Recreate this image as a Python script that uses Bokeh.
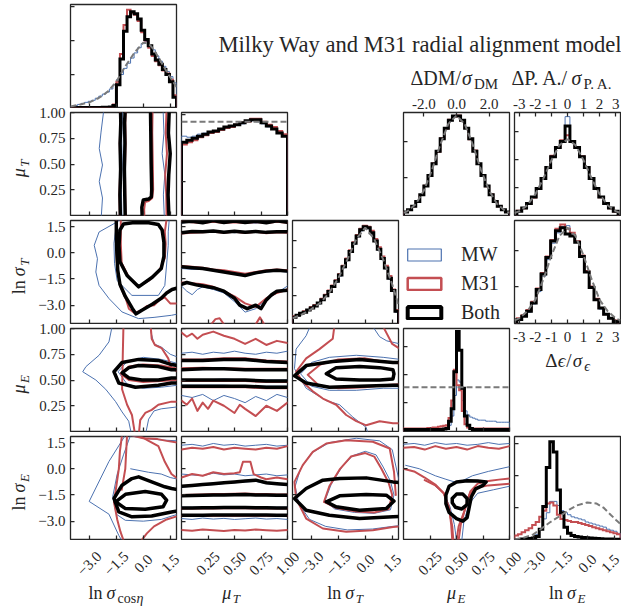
import math
import numpy as np
from bokeh.plotting import figure
from bokeh.layouts import row, column
from bokeh.models import (Range1d, FixedTicker, CustomJSTickFormatter, Label, Spacer,
                          Legend, LegendItem)
from bokeh.core.properties import value
from bokeh.embed import file_html
from bokeh.resources import INLINE

# ---------------------------------------------------------------- data
TITLE = "Milky Way and M31 radial alignment model"
SERIES = ["MW", "M31", "Both"]

LNS_RANGE = (-4.05, 1.85)
MU_RANGE = (0.0, 1.0)
DM_RANGE = (-3.25, 3.25)
PA_RANGE = (-3.3, 3.3)
PA_BINS = (-3.15, 3.15)
LNS_TICKS = [-3.0, -1.5, 0.0, 1.5]
MU_TICKS = [0.25, 0.5, 0.75, 1.0]
DM_TICKS = [-2.0, 0.0, 2.0]
PA_TICKS = [-3, -2, -1, 0, 1, 2, 3]

# 1-D histograms (heights as fraction of the panel height)
H00_MW = [0.01, 0.02, 0.03, 0.04, 0.05, 0.06, 0.07, 0.09, 0.11, 0.13, 0.15, 0.18, 0.22, 0.27, 0.32,
          0.38, 0.43, 0.48, 0.53, 0.58, 0.62, 0.64, 0.60, 0.56, 0.50, 0.45, 0.40, 0.35, 0.30, 0.24]
H00_M31 = [0, 0, 0, 0, 0, 0, 0, 0, 0.002, 0.003, 0.004, 0.006, 0.03, 0.25, 0.52,
           0.80, 0.95, 0.92, 0.90, 0.84, 0.73, 0.65, 0.58, 0.50, 0.45, 0.41, 0.36, 0.33, 0.27, 0.12]
H00_BOTH = [0, 0, 0, 0, 0, 0, 0, 0, 0, 0.003, 0.003, 0.005, 0.02, 0.22, 0.47,
            0.74, 0.88, 0.93, 0.91, 0.86, 0.75, 0.66, 0.60, 0.52, 0.46, 0.42, 0.37, 0.32, 0.25, 0.10]
H00_PRIOR_X = [-4.05, -3.5, -3.0, -2.5, -2.0, -1.5, -1.0, -0.5, 0.0, 0.3, 0.6, 1.0, 1.4, 1.85]
H00_PRIOR_Y = [0.01, 0.03, 0.05, 0.09, 0.15, 0.25, 0.40, 0.53, 0.63, 0.62, 0.56, 0.44, 0.32, 0.20]
H00_YTICKS = [0.32, 0.65, 0.98]

H11_MW = [0.77, 0.76, 0.77, 0.79, 0.80, 0.80, 0.82, 0.84, 0.86, 0.87,
          0.88, 0.89, 0.91, 0.92, 0.91, 0.89, 0.86, 0.84, 0.81, 0.78]
H11_M31 = [0.69, 0.71, 0.73, 0.76, 0.78, 0.80, 0.81, 0.83, 0.85, 0.86,
           0.88, 0.90, 0.91, 0.94, 0.94, 0.91, 0.88, 0.86, 0.82, 0.79]
H11_BOTH = [0.71, 0.73, 0.75, 0.77, 0.79, 0.81, 0.82, 0.84, 0.86, 0.87,
            0.88, 0.90, 0.92, 0.93, 0.93, 0.90, 0.87, 0.84, 0.80, 0.77]
H11_PRIOR_X = [0.0, 1.0]
H11_PRIOR_Y = [0.91, 0.91]
H11_YTICKS = [0.33, 0.98]

H22_MW = [0.06, 0.07, 0.09, 0.11, 0.13, 0.15, 0.17, 0.19, 0.23, 0.27, 0.31, 0.35, 0.40, 0.46, 0.54,
          0.61, 0.69, 0.77, 0.84, 0.90, 0.93, 0.92, 0.87, 0.80, 0.71, 0.62, 0.53, 0.43, 0.31, 0.11]
H22_M31 = [0.07, 0.08, 0.10, 0.12, 0.13, 0.16, 0.18, 0.20, 0.24, 0.28, 0.32, 0.37, 0.42, 0.48, 0.56,
           0.63, 0.71, 0.79, 0.86, 0.92, 0.95, 0.94, 0.90, 0.82, 0.74, 0.65, 0.56, 0.46, 0.33, 0.13]
H22_BOTH = [0.06, 0.08, 0.10, 0.11, 0.13, 0.15, 0.17, 0.20, 0.23, 0.27, 0.31, 0.36, 0.41, 0.47, 0.55,
            0.62, 0.70, 0.78, 0.85, 0.91, 0.94, 0.93, 0.88, 0.80, 0.72, 0.63, 0.54, 0.44, 0.32, 0.12]
H22_PRIOR_X = [-4.05, -3.5, -3.0, -2.5, -2.0, -1.5, -1.0, -0.5, 0.0, 0.5, 1.0, 1.5, 1.85]
H22_PRIOR_Y = [0.05, 0.09, 0.14, 0.20, 0.30, 0.44, 0.62, 0.82, 0.93, 0.82, 0.62, 0.38, 0.18]
H22_YTICKS = [0.27, 0.54, 0.81]

H33_MW = [0.02, 0.02, 0.02, 0.02, 0.02, 0.02, 0.02, 0.02, 0.02, 0.02, 0.02, 0.02, 0.02, 0.025, 0.025,
          0.03, 0.035, 0.06, 0.15, 0.35, 0.50, 0.48, 0.30, 0.20, 0.16, 0.14, 0.13, 0.12, 0.11, 0.11,
          0.11, 0.10, 0.10, 0.10, 0.10, 0.09, 0.09, 0.09, 0.09, 0.09]
H33_M31 = [0.03, 0.03, 0.03, 0.03, 0.03, 0.03, 0.03, 0.03, 0.03, 0.035, 0.035, 0.04, 0.04, 0.045, 0.05,
           0.055, 0.06, 0.13, 0.30, 0.60, 0.45, 0.40, 0.20, 0.07, 0.04, 0.035, 0.03, 0.03, 0.03, 0.03,
           0.03, 0.03, 0.03, 0.03, 0.03, 0.03, 0.03, 0.03, 0.03, 0.03]
H33_BOTH = [0.02, 0.02, 0.02, 0.02, 0.02, 0.02, 0.02, 0.02, 0.02, 0.02, 0.02, 0.02, 0.02, 0.02, 0.02,
            0.025, 0.03, 0.10, 0.22, 0.58, 0.97, 0.79, 0.42, 0.15, 0.06, 0.03, 0.02, 0.02, 0.02, 0.02,
            0.02, 0.02, 0.02, 0.02, 0.02, 0.02, 0.02, 0.02, 0.02, 0.02]
H33_PRIOR_X = [0.0, 1.0]
H33_PRIOR_Y = [0.43, 0.43]
H33_YTICKS = [0.28, 0.55, 0.83]

H44_MW = [0.005, 0.008, 0.01, 0.012, 0.015, 0.02, 0.05, 0.10, 0.20, 0.26, 0.37, 0.37, 0.33, 0.28, 0.26,
          0.24, 0.22, 0.21, 0.20, 0.19, 0.17, 0.16, 0.15, 0.14, 0.13, 0.12, 0.10, 0.09, 0.08, 0.06]
H44_M31 = [0.04, 0.05, 0.07, 0.09, 0.11, 0.14, 0.17, 0.22, 0.28, 0.35, 0.36, 0.33, 0.24, 0.20, 0.19,
           0.18, 0.17, 0.17, 0.16, 0.15, 0.14, 0.13, 0.12, 0.11, 0.10, 0.09, 0.08, 0.07, 0.06, 0.05]
H44_BOTH = [0.0, 0.0, 0.005, 0.008, 0.01, 0.015, 0.03, 0.10, 0.32, 0.70, 0.95, 0.85, 0.48, 0.26, 0.12,
            0.06, 0.04, 0.03, 0.025, 0.02, 0.018, 0.015, 0.012, 0.01, 0.008, 0.006, 0.005, 0.004, 0.003, 0.002]
H44_PRIOR_X = [-4.05, -3.5, -3.0, -2.6, -2.05, -1.5, -1.0, -0.6, 0.0, 0.5, 0.9, 1.3, 1.6, 1.85]
H44_PRIOR_Y = [0.0, 0.02, 0.05, 0.10, 0.17, 0.23, 0.29, 0.33, 0.36, 0.35, 0.31, 0.24, 0.19, 0.15]
H44_YTICKS = [0.31, 0.62, 0.93]

DM_MW = [0.032, 0.056, 0.088, 0.138, 0.204, 0.284, 0.390, 0.500, 0.627, 0.742, 0.850, 0.920, 0.968,
         0.962, 0.927, 0.844, 0.747, 0.622, 0.505, 0.386, 0.288, 0.200, 0.139, 0.087, 0.056, 0.032]
DM_M31 = [0.035, 0.054, 0.090, 0.135, 0.200, 0.290, 0.385, 0.505, 0.620, 0.750, 0.845, 0.930, 0.960,
          0.970, 0.920, 0.850, 0.740, 0.630, 0.500, 0.390, 0.283, 0.205, 0.135, 0.090, 0.053, 0.034]
DM_BOTH = [0.033, 0.055, 0.089, 0.137, 0.202, 0.286, 0.388, 0.503, 0.625, 0.744, 0.847, 0.924, 0.965,
           0.965, 0.924, 0.847, 0.744, 0.625, 0.503, 0.388, 0.286, 0.202, 0.137, 0.089, 0.055, 0.033]
DM_PRIOR_X = [-3.25, -3.0, -2.5, -2.0, -1.5, -1.0, -0.5, 0.0, 0.5, 1.0, 1.5, 2.0, 2.5, 3.0, 3.25]
DM_PRIOR_Y = [0.025, 0.043, 0.11, 0.242, 0.444, 0.686, 0.89, 0.97, 0.89, 0.686, 0.444, 0.242, 0.11, 0.043, 0.025]
DM_YTICKS = [0.37, 0.72]

PA_MW = [0.040, 0.074, 0.115, 0.182, 0.260, 0.355, 0.470, 0.565, 0.665, 0.715, 0.960,
         0.725, 0.658, 0.568, 0.465, 0.362, 0.260, 0.182, 0.115, 0.074, 0.043]
PA_M31 = [0.045, 0.070, 0.120, 0.175, 0.265, 0.365, 0.460, 0.580, 0.660, 0.730, 0.780,
          0.720, 0.655, 0.575, 0.470, 0.355, 0.265, 0.178, 0.120, 0.070, 0.040]
PA_BOTH = [0.042, 0.072, 0.117, 0.180, 0.262, 0.360, 0.467, 0.571, 0.660, 0.719, 0.870,
           0.719, 0.660, 0.571, 0.467, 0.360, 0.262, 0.180, 0.117, 0.072, 0.042]
PA_PRIOR_X = [-3.3, -3.0, -2.5, -2.0, -1.5, -1.0, -0.5, 0.0, 0.5, 1.0, 1.5, 2.0, 2.5, 3.0, 3.3]
PA_PRIOR_Y = [0.023, 0.042, 0.10, 0.206, 0.36, 0.537, 0.683, 0.74, 0.683, 0.537, 0.36, 0.206, 0.10, 0.042, 0.023]
PA_YTICKS = [0.27, 0.54, 0.82]

EPS_MW = [0.04, 0.07, 0.11, 0.19, 0.31, 0.46, 0.62, 0.78, 0.88, 0.94, 0.95,
          0.86, 0.80, 0.66, 0.51, 0.36, 0.23, 0.14, 0.09, 0.05, 0.02]
EPS_M31 = [0.05, 0.08, 0.13, 0.21, 0.34, 0.49, 0.65, 0.81, 0.92, 0.96, 0.92,
           0.88, 0.80, 0.66, 0.51, 0.36, 0.24, 0.15, 0.09, 0.05, 0.03]
EPS_BOTH = [0.04, 0.07, 0.12, 0.20, 0.33, 0.48, 0.64, 0.80, 0.90, 0.93, 0.87,
            0.85, 0.79, 0.65, 0.50, 0.35, 0.23, 0.15, 0.09, 0.05, 0.02]
EPS_PRIOR_X = [-3.3, -3.0, -2.5, -2.0, -1.5, -1.0, -0.5, 0.0, 0.5, 1.0, 1.5, 2.0, 2.5, 3.0, 3.3]
EPS_PRIOR_Y = [0.03, 0.05, 0.12, 0.23, 0.43, 0.66, 0.85, 0.93, 0.85, 0.66, 0.43, 0.23, 0.12, 0.05, 0.03]
EPS_YTICKS = [0.36, 0.71]

# 2-D credible-region contours: list of (x, y) curves per series
P10_MW = [([-2.18, -2.35, -2.45, -2.27, -2.45, -2.27, -2.35], [1.05, 0.81, 0.65, 0.49, 0.33, 0.17, -0.05]),
          ([-1.15, -1.2, -1.17, -1.22, -1.18], [1.05, 0.75, 0.5, 0.25, -0.05]),
          ([1.1, 1.15, 1.05, 1.2, 1.12, 1.18], [1.05, 0.8, 0.6, 0.4, 0.2, -0.05])]
P10_M31 = [([-0.97, -1.0, -1.02, -0.98, -1.0, -0.97], [-0.05, 0.2, 0.45, 0.7, 0.9, 1.05]),
           ([0.52, 0.5, 0.53, 0.55, 0.5, 0.3, 0.1, 0.05, 0.07], [1.05, 0.8, 0.5, 0.25, 0.17, 0.14, 0.13, 0.06, -0.05]),
           ([-1.3, -1.33, -1.28, -1.31, -1.27, -1.3], [-0.05, 0.2, 0.45, 0.7, 0.9, 1.05]),
           ([1.3, 1.25, 1.32, 1.22, 1.28, 1.3], [1.05, 0.8, 0.6, 0.4, 0.2, -0.05])]
P10_BOTH = [([-1.0, -1.03, -1.05, -1.02, -1.04, -1.0], [-0.05, 0.2, 0.45, 0.7, 0.9, 1.05]),
            ([0.4, 0.42, 0.44, 0.47, 0.45, 0.3, 0.0, -0.08, -0.05], [1.05, 0.8, 0.5, 0.25, 0.18, 0.16, 0.15, 0.08, -0.05]),
            ([-1.27, -1.3, -1.26, -1.29, -1.25, -1.27], [-0.05, 0.2, 0.45, 0.7, 0.9, 1.05]),
            ([1.45, 1.4, 1.5, 1.42, 1.38, 1.44], [1.05, 0.8, 0.6, 0.4, 0.2, -0.05])]

P20_MW = [([-1.2, -1.63, -2.46, -2.73, -2.55, -2.64, -2.46, -1.9, -1.18, -0.26, 0.6, 1.57, 1.95],
           [1.95, 1.67, 1.19, 0.43, -0.34, -1.1, -1.87, -2.63, -3.39, -3.77, -3.7, -3.58, -3.5]),
          ([-1.5, -1.55, -1.63, -1.6, -1.45, -0.63, 0.84, 1.2, 1.39, 1.39, 1.45],
           [1.95, 1.19, 0.55, -0.6, -1.6, -2.44, -2.44, -1.87, 0.43, 1.2, 1.95])]
P20_M31 = [([-1.25, -1.25, -1.2, -0.8, -0.3, 0.3, 0.9, 1.2, 1.25, 1.2, 1.3],
            [1.95, 0.5, -0.6, -1.4, -1.95, -1.6, -1.0, -0.3, 0.5, 1.2, 1.95]),
           ([-1.5, -1.5, -1.45, -1.25, -0.95, -0.8, -0.5, -0.1, 0.2, 0.6, 0.9, 1.2, 1.5, 1.95],
            [1.95, 0.5, -1.0, -2.0, -2.7, -3.2, -3.45, -3.3, -3.05, -3.0, -2.7, -2.55, -2.9, -2.9])]
P20_BOTH = [([-1.3, -1.1, -0.6, 0.3, 0.84, 1.05, 1.15, 1.15, 1.0, 0.5, -0.26, -0.9, -1.3, -1.35, -1.3],
             [1.3, 1.65, 1.72, 1.72, 1.62, 1.3, 0.6, -0.2, -0.9, -1.4, -1.95, -1.3, -0.5, 0.4, 1.3]),
            ([-1.5, -1.5, -1.47, -1.42, -1.3, -1.0, -0.6, -0.4, -0.1, 0.5, 1.0, 1.3, 1.6, 1.95],
             [1.95, 1.0, 0.0, -1.0, -1.8, -2.5, -3.2, -3.5, -3.3, -2.95, -2.6, -2.3, -2.1, -2.0])]

P30_MW = [([-1.7, -1.91, -2.46, -3.19, -3.37, -2.64, -2.09, -1.54, -1.18, -0.81, -0.63],
           [1.05, 0.87, 0.74, 0.63, 0.58, 0.5, 0.41, 0.29, 0.19, 0.1, -0.05]),
          ([0.1, 0.3, 0.6, 1.0, 1.95], [-0.05, 0.12, 0.2, 0.22, 0.24]),
          ([1.95, 1.0, 0.0, -0.9, -1.4, -0.9, 0.0, 1.0, 1.95], [0.66, 0.7, 0.72, 0.68, 0.58, 0.46, 0.42, 0.43, 0.45]),
          ([0.3, 0.6, 1.0, 1.5, 1.95], [1.05, 0.85, 0.82, 0.75, 0.72])]
P30_M31 = [([1.95, 1.0, 0.0, -0.8, -1.25, -0.8, 0.0, 1.0, 1.95], [0.61, 0.64, 0.65, 0.63, 0.56, 0.5, 0.48, 0.49, 0.5]),
           ([-1.1, -1.14, -1.16, -1.18, -0.9, -0.63, -0.44], [1.05, 0.74, 0.55, 0.41, 0.26, 0.16, -0.05]),
           ([0.4, 0.47, 0.65, 1.02, 1.39, 1.57, 1.95], [1.05, 0.9, 0.84, 0.81, 0.71, 0.61, 0.58]),
           ([1.95, 1.57, 0.84, 0.47, 0.11, -0.17, -0.26], [0.29, 0.29, 0.26, 0.21, 0.18, 0.11, -0.05])]
P30_BOTH = [([1.95, 1.57, 0.84, -0.26, -0.8, -1.18, -0.8, -0.08, 0.84, 1.57, 1.95],
             [0.6, 0.6, 0.63, 0.64, 0.62, 0.57, 0.52, 0.5, 0.5, 0.52, 0.52]),
            ([1.95, 1.57, 0.84, -0.26, -1.18, -1.63, -1.36, -0.44, 0.84, 1.57, 1.95],
             [0.64, 0.65, 0.69, 0.7, 0.67, 0.58, 0.47, 0.43, 0.45, 0.47, 0.47])]

P40_MW = [([-0.98, -1.91, -3.01, -1.91, -1.36, -1.2], [1.95, 0.42, -1.87, -2.6, -3.82, -4.1]),
          ([-0.98, 0.0, 1.0, 1.95], [1.95, 1.75, 1.65, 1.6]),
          ([-0.7, -1.1, -1.45, -1.7, -1.5, -1.0, 0.0, 1.0, 1.6, 1.95], [1.95, 0.8, -0.3, -1.6, -2.6, -2.95, -3.0, -2.9, -2.7, -2.6]),
          ([-0.7, 0.3, 1.0, 1.5, 1.95], [0.0, -0.2, -0.3, -0.5, -0.6])]
P40_M31 = [([-1.18, -1.3, -1.36, -1.5, -1.63, -1.45, -1.27, -1.1], [1.95, 1.0, 0.0, -1.0, -1.9, -2.9, -3.6, -4.1]),
           ([-0.8, 0.0, 0.8, 1.3, 1.95], [1.95, 1.75, 1.7, 1.6, 1.5]),
           ([-0.9, -0.95, -1.0, -1.2], [1.95, 1.0, 0.0, -1.2]),
           ([-0.3, 0.3, 0.84, 1.2, 1.57, 1.95], [1.95, 1.6, 1.3, 0.4, -0.3, -0.6]),
           ([1.95, 1.3, 0.6, 0.2, -0.1], [-2.7, -2.9, -3.3, -3.7, -4.1])]
P40_BOTH = [([-1.54, -0.99, 0.11, 1.02, 1.3, 1.1, 0.11, -0.99, -1.54], [-1.89, -1.46, -1.3, -1.46, -1.8, -2.18, -2.32, -2.28, -1.89]),
            ([1.95, 1.57, 1.2, 0.47, -0.26, -0.63, -1.18, -1.63, -1.36, -0.63, 0.47, 1.57, 1.95],
             [-1.2, -1.13, -1.03, -0.75, -0.46, -0.56, -0.94, -1.7, -2.47, -2.75, -2.7, -2.47, -2.4])]

MU_GRID = [0.0, 0.1, 0.2, 0.3, 0.4, 0.5, 0.6, 0.7, 0.8, 0.9, 1.0]
P21_MW = [(MU_GRID, [1.7, 1.78, 1.74, 1.82, 1.72, 1.8, 1.75, 1.7, 1.78, 1.74, 1.8]),
          (MU_GRID, [1.12, 1.18, 1.22, 1.18, 1.2, 1.15, 1.22, 1.18, 1.15, 1.22, 1.18]),
          (MU_GRID, [-0.9, -0.95, -0.95, -1.0, -1.05, -1.15, -1.25, -1.2, -1.1, -1.05, -1.1]),
          ([0.0, 0.05, 0.1, 0.15, 0.2, 0.3, 0.4, 0.5, 0.6, 0.7, 0.8, 0.9, 1.0],
           [-1.9, -2.2, -2.4, -2.1, -1.95, -2.1, -2.3, -2.8, -3.4, -3.2, -2.7, -2.3, -1.9])]
P21_M31 = [(MU_GRID, [1.8, 1.75, 1.7, 1.78, 1.7, 1.75, 1.7, 1.76, 1.7, 1.78, 1.72]),
           (MU_GRID, [1.1, 1.15, 1.17, 1.2, 1.15, 1.2, 1.14, 1.2, 1.12, 1.17, 1.15]),
           (MU_GRID, [-0.75, -0.8, -0.85, -0.95, -1.0, -1.1, -1.2, -1.1, -1.0, -0.95, -1.0]),
           (MU_GRID, [-1.7, -1.75, -1.8, -1.95, -2.2, -2.5, -2.9, -3.1, -2.6, -2.3, -2.1]),
           ([0.28, 0.32, 0.36, 0.4], [-4.1, -3.8, -3.75, -4.1]),
           ([0.7, 0.74, 0.78], [-4.1, -3.7, -4.1])]
P21_BOTH = [(MU_GRID, [1.76, 1.8, 1.72, 1.85, 1.74, 1.82, 1.73, 1.8, 1.72, 1.84, 1.75]),
            (MU_GRID, [1.15, 1.22, 1.2, 1.25, 1.18, 1.24, 1.18, 1.22, 1.17, 1.2, 1.2]),
            (MU_GRID, [-0.8, -0.85, -0.9, -1.0, -1.1, -1.2, -1.3, -1.15, -1.05, -1.0, -1.05]),
            ([0.0, 0.05, 0.15, 0.3, 0.4, 0.5, 0.55, 0.62, 0.7, 0.75, 0.8, 0.85, 0.9, 1.0],
             [-1.8, -1.7, -1.85, -2.0, -2.2, -2.6, -3.0, -3.2, -3.0, -3.2, -2.7, -2.4, -2.2, -2.15])]

MU_GRID6 = [0.0, 0.2, 0.4, 0.6, 0.8, 1.0]
P31_MW = [(MU_GRID6, [0.69, 0.7, 0.7, 0.69, 0.69, 0.68]),
          (MU_GRID6, [0.6, 0.6, 0.61, 0.6, 0.6, 0.6]),
          (MU_GRID6, [0.5, 0.5, 0.51, 0.5, 0.5, 0.5]),
          (MU_GRID6, [0.45, 0.45, 0.45, 0.44, 0.44, 0.44]),
          (MU_GRID, [0.76, 0.77, 0.75, 0.77, 0.76, 0.78, 0.76, 0.75, 0.77, 0.76, 0.78]),
          (MU_GRID, [0.35, 0.33, 0.36, 0.3, 0.35, 0.32, 0.28, 0.34, 0.3, 0.36, 0.33])]
P31_M31 = [(MU_GRID6, [0.7, 0.7, 0.71, 0.71, 0.69, 0.68]),
           (MU_GRID6, [0.615, 0.62, 0.615, 0.61, 0.61, 0.61]),
           (MU_GRID6, [0.49, 0.49, 0.49, 0.49, 0.48, 0.48]),
           (MU_GRID6, [0.43, 0.43, 0.43, 0.43, 0.42, 0.42]),
           ([0.0, 0.05, 0.1, 0.15, 0.2, 0.3, 0.4, 0.5, 0.6, 0.7, 0.8, 0.9, 1.0],
            [0.96, 0.92, 0.95, 0.9, 0.94, 0.97, 0.93, 0.9, 0.85, 0.9, 0.84, 0.88, 0.86]),
           ([0.0, 0.05, 0.1, 0.15, 0.2, 0.25, 0.3, 0.4, 0.5, 0.55, 0.6, 0.7, 0.8, 0.9, 1.0],
            [0.3, 0.26, 0.32, 0.2, 0.28, 0.22, 0.3, 0.25, 0.18, 0.26, 0.22, 0.15, 0.25, 0.2, 0.28])]
P31_BOTH = [(MU_GRID6, [0.69, 0.69, 0.7, 0.7, 0.68, 0.67]),
            (MU_GRID6, [0.6, 0.61, 0.61, 0.6, 0.6, 0.6]),
            (MU_GRID6, [0.5, 0.5, 0.5, 0.5, 0.49, 0.49]),
            (MU_GRID6, [0.44, 0.44, 0.44, 0.44, 0.43, 0.43])]

P41_MW = [(MU_GRID, [1.35, 1.4, 1.3, 1.45, 1.35, 1.4, 1.3, 1.35, 1.4, 1.3, 1.35]),
          (MU_GRID, [-0.3, -0.35, -0.4, -0.25, -0.35, -0.3, -0.4, -0.35, -0.3, -0.4, -0.35]),
          (MU_GRID, [-1.05, -1.0, -0.95, -0.9, -0.85, -0.8, -0.75, -0.72, -0.85, -0.9, -0.95]),
          (MU_GRID, [-1.58, -1.56, -1.55, -1.53, -1.52, -1.5, -1.5, -1.52, -1.53, -1.55, -1.55]),
          (MU_GRID, [-2.2, -2.2, -2.19, -2.19, -2.18, -2.18, -2.18, -2.19, -2.19, -2.2, -2.2]),
          (MU_GRID, [-2.85, -2.9, -2.82, -2.88, -2.84, -2.9, -2.86, -2.82, -2.88, -2.85, -2.9])]
P41_M31 = [(MU_GRID, [1.1, 1.2, 1.15, 1.25, 1.1, 1.2, 1.15, 1.1, 1.2, 1.15, 1.3]),
           ([0.0, 0.1, 0.2, 0.3, 0.4, 0.5, 0.55, 0.58, 0.65, 0.68, 0.75, 0.8, 0.9, 1.0],
            [-0.5, -0.3, -0.4, -0.2, -0.3, -0.25, -0.2, 0.4, 0.4, -0.3, -0.5, -0.6, -0.5, -0.6]),
           (MU_GRID, [-1.5, -1.48, -1.47, -1.45, -1.45, -1.43, -1.42, -1.45, -1.45, -1.47, -1.47]),
           (MU_GRID, [-2.28, -2.28, -2.27, -2.27, -2.26, -2.26, -2.26, -2.27, -2.27, -2.28, -2.28]),
           (MU_GRID, [-2.7, -2.7, -2.7, -2.69, -2.69, -2.69, -2.68, -2.69, -2.69, -2.7, -2.7]),
           (MU_GRID, [-3.5, -3.55, -3.48, -3.52, -3.56, -3.5, -3.54, -3.48, -3.52, -3.55, -3.5])]
P41_BOTH = [(MU_GRID, [-1.0, -0.95, -0.9, -0.85, -0.8, -0.75, -0.7, -0.65, -0.8, -0.85, -0.9]),
            (MU_GRID, [-1.55, -1.53, -1.52, -1.5, -1.5, -1.48, -1.47, -1.5, -1.5, -1.52, -1.52]),
            (MU_GRID, [-2.24, -2.24, -2.23, -2.23, -2.22, -2.22, -2.22, -2.23, -2.23, -2.24, -2.24]),
            (MU_GRID, [-2.66, -2.66, -2.66, -2.65, -2.65, -2.65, -2.64, -2.65, -2.65, -2.66, -2.66])]

P32_MW = [([-3.0, -3.29, -3.85, -3.94, -3.29, -2.17, -1.43, -0.69, 0.05, 0.2],
           [1.05, 0.93, 0.8, 0.61, 0.42, 0.3, 0.26, 0.14, 0.04, -0.05]),
          ([0.3, 0.8, 1.2, 1.95], [1.05, 0.92, 0.88, 0.85]),
          ([1.95, 1.0, -0.5, -2.0, -3.0, -3.6, -3.0, -2.0, -0.5, 1.0, 1.95],
           [0.7, 0.72, 0.74, 0.72, 0.67, 0.56, 0.44, 0.4, 0.4, 0.42, 0.42])]
P32_M31 = [([-1.7, -1.81, -2.55, -3.29, -3.85, -3.48, -2.92, -2.36, -1.62, -1.06, -0.5, 0.05, 0.8, 1.54, 1.95],
            [1.05, 0.9, 0.8, 0.71, 0.58, 0.48, 0.39, 0.32, 0.26, 0.16, 0.1, 0.06, 0.1, 0.08, 0.08]),
           ([0.9, 1.2, 1.5, 1.95], [1.05, 0.95, 0.85, 0.8]),
           ([1.95, 1.0, 0.0, -1.5, -2.5, -3.2, -2.6, -1.5, 0.0, 1.0, 1.95],
            [0.66, 0.68, 0.71, 0.7, 0.65, 0.55, 0.45, 0.42, 0.43, 0.45, 0.46])]
P32_BOTH = [([1.6, 1.54, 0.8, -0.32, -1.62, -2.17, -1.62, -0.32, 0.8, 1.54, 1.6],
             [0.56, 0.6, 0.62, 0.63, 0.62, 0.56, 0.51, 0.5, 0.5, 0.51, 0.56]),
            ([1.95, 1.54, -0.32, -1.81, -3.29, -3.94, -3.29, -2.0, -0.32, 1.54, 1.95],
             [0.67, 0.67, 0.7, 0.68, 0.64, 0.54, 0.47, 0.43, 0.44, 0.45, 0.45])]

P42_MW = [([1.95, 1.5, 0.8, -0.5, -2.0, -3.0, -3.6, -3.9, -3.7, -3.1, -2.2, -1.0, 0.4, 1.5, 1.95],
           [-1.0, 1.1, 1.6, 1.75, 1.5, 0.9, 0.0, -1.0, -2.0, -2.9, -3.3, -3.5, -3.45, -3.3, -3.25]),
          ([-2.25, -1.9, -1.3, -0.7, 0.0, 0.6, 1.0, 1.4, 1.6, 1.4, 0.5, -0.6, -1.7, -2.25],
           [-1.85, -0.9, 0.1, 0.75, 1.0, 0.8, 0.1, -0.7, -1.5, -2.35, -2.55, -2.5, -2.3, -1.85])]
P42_M31 = [([1.7, 1.6, 1.36, 0.42, -1.06, -2.17, -2.92, -3.48, -3.94, -3.85, -3.29, -2.36, -1.06, 0.42, 1.54, 1.95],
            [-1.5, -0.17, 1.16, 1.55, 1.64, 1.45, 0.97, 0.21, -0.75, -1.7, -2.85, -3.42, -3.61, -3.52, -3.33, -3.3]),
           ([-2.3, -2.0, -1.4, -0.8, 0.0, 0.5, 0.9, 1.3, 1.5, 1.3, 0.5, -0.5, -1.6, -2.3],
            [-1.9, -1.0, 0.0, 0.7, 0.9, 0.7, 0.0, -0.8, -1.5, -2.3, -2.5, -2.45, -2.25, -1.9])]
P42_BOTH = [([-2.17, -1.43, 0.05, 1.17, 1.6, 1.17, -0.32, -1.62, -2.17],
             [-1.89, -1.55, -1.47, -1.51, -1.85, -2.28, -2.37, -2.18, -1.89]),
            ([1.95, 1.54, 0.05, -1.43, -2.36, -3.29, -3.94, -3.29, -2.0, -0.32, 1.54, 1.95],
             [-0.8, -0.75, -0.52, -0.56, -0.65, -1.13, -1.7, -2.37, -2.66, -2.85, -2.75, -2.73])]

P43_MW = [(MU_GRID, [1.4, 1.45, 1.35, 1.5, 1.4, 1.45, 1.35, 1.4, 1.5, 1.4, 1.45]),
          ([0.02, 0.15, 0.3, 0.4, 0.48, 0.55, 0.65, 0.8, 1.0], [0.2, 0.0, -0.4, -0.6, -0.75, -0.7, -0.4, -0.15, 0.12]),
          ([0.3, 0.38, 0.44, 0.48, 0.5], [-1.0, -1.4, -2.2, -3.2, -4.1]),
          ([0.55, 0.57, 0.62, 0.7, 0.85, 1.0], [-4.1, -3.0, -2.0, -1.4, -1.2, -1.0])]
P43_M31 = [(MU_GRID, [1.2, 1.25, 1.1, 1.3, 1.15, 1.25, 1.1, 1.3, 1.2, 1.15, 1.3]),
           ([0.0, 0.1, 0.2, 0.3, 0.38, 0.43, 0.46, 0.47], [0.0, -0.15, -0.5, -0.9, -1.4, -2.3, -3.3, -4.1]),
           ([0.52, 0.54, 0.58, 0.63, 0.7, 0.8, 0.9, 1.0], [-4.1, -3.2, -2.3, -1.3, -0.85, -0.7, -0.62, -0.55]),
           ([0.2, 0.3, 0.38, 0.43, 0.45, 0.46], [-0.65, -0.95, -1.4, -2.2, -3.2, -4.1]),
           ([0.5, 0.52, 0.57, 0.62, 0.68, 0.8, 1.0], [-4.1, -3.3, -2.5, -1.5, -1.1, -0.95, -0.85])]
P43_BOTH = [([0.46, 0.5, 0.56, 0.6, 0.6, 0.55, 0.49, 0.46, 0.46], [-1.7, -1.45, -1.45, -1.7, -2.05, -2.3, -2.2, -1.95, -1.7]),
            ([0.4, 0.43, 0.5, 0.6, 0.7, 0.78, 0.75, 0.68, 0.64, 0.62, 0.6, 0.56, 0.5, 0.43, 0.4, 0.4],
             [-1.5, -1.0, -0.75, -0.68, -0.7, -0.75, -0.95, -1.15, -1.6, -2.2, -2.8, -3.0, -2.85, -2.5, -2.0, -1.5])]

# ---------------------------------------------------------------- style / layout constants
SERIF = "Liberation Serif"
INK = "#262626"
COL = {"MW": "#4C72B0", "M31": "#C44E52", "Both": "#000000"}
CLW = {"MW": 1.0, "M31": 2.0, "Both": 3.5}
HLW = {"MW": 1.0, "M31": 2.0, "Both": 3.0}
LEG_LW = {"MW": 1.2, "M31": 2.5, "Both": 4.0}
PRIOR_COLOR = "#7a7a7a"
BASE_FIX = 0.27      # correction of the rendered alphabetic baseline (em)

FRAME = 103
FRAME_W = 106
BT, BB = 4, 1
CELL_H = BT + FRAME + BB                  # 108
LAB_W = 35                                # strip with the rotated y labels
AX_W = 32                                 # strip with the y tick labels (real axes)
LEFT_W = LAB_W + AX_W
BODY_H = 5 * CELL_H                       # 540
BOTTOM_H = 608 - BODY_H                   # 68: rotated tick labels + x labels
TOP_H = 91
COLW = [3 + FRAME_W + 3, 2 + FRAME_W + 3, 2 + FRAME_W + 3, 2 + FRAME_W + 3, 2 + FRAME_W + 1]
COL_L = [LEFT_W + 3]
for _i in range(1, 5):
    COL_L.append(LEFT_W + sum(COLW[:_i]) + 2)
COL_C = [l + FRAME_W / 2 for l in COL_L]
ROW_T = [r * CELL_H + BT for r in range(5)]
ROW_B = [t + FRAME for t in ROW_T]
RIGHT_X0 = LEFT_W + COLW[0]
RIGHT_W = sum(COLW[1:])
TOTAL_W = 624
COL_RANGES = [LNS_RANGE, MU_RANGE, LNS_RANGE, MU_RANGE, LNS_RANGE]
COL_TICKS = [LNS_TICKS, MU_TICKS, LNS_TICKS, MU_TICKS, LNS_TICKS]
COL_KINDS = ["lns", "mu", "lns", "mu", "lns"]
# vertical extent of the y-tick-label strips of rows 1-4 (so that no label is cut)
AX_STRIPS = [(96, 216), (216, 318), (318, 432), (432, 540)]


def fmt(kind):
    if kind == "lns":
        code = "return tick.toFixed(1).replace('-', '\u2212');"
    elif kind == "mu":
        code = "return tick.toFixed(2);"
    elif kind == "dm":
        code = "return tick.toFixed(1);"
    else:
        code = "return tick.toFixed(0);"
    return CustomJSTickFormatter(code=code)


def tick_text(t, kind):
    if kind == "mu":
        return f"{t:.2f}"
    return f"{t:.1f}".replace("-", "\u2212")


def style_axis(ax, ticks, kind, standoff=4, tick_len=4):
    ax.ticker = FixedTicker(ticks=ticks, minor_ticks=[])
    ax.major_tick_in = tick_len
    ax.major_tick_out = 0
    ax.major_tick_line_color = INK if tick_len else None
    ax.major_tick_line_width = 1.25
    ax.minor_tick_line_color = None
    ax.axis_line_color = None
    if kind is None:
        ax.major_label_text_font_size = "0px"
        ax.major_label_text_color = None
        ax.major_label_standoff = 0
    else:
        ax.formatter = fmt(kind)
        ax.major_label_text_font = SERIF
        ax.major_label_text_font_size = "15px"
        ax.major_label_text_color = INK
        ax.major_label_standoff = standoff


def panel(w, h, xr, yr, bl, br, bt, bb, xticks, yticks, xkind=None, xloc="below", standoff=4):
    p = figure(width=w, height=h, x_range=Range1d(*xr), y_range=Range1d(*yr),
               output_backend="svg", toolbar_location=None, tools="",
               x_axis_location=xloc, min_border_left=bl, min_border_right=br,
               min_border_top=bt, min_border_bottom=bb)
    p.grid.visible = False
    p.outline_line_color = INK
    p.outline_line_width = 1.3
    p.background_fill_color = "white"
    p.border_fill_color = "white"
    style_axis(p.xaxis[0], xticks, xkind, standoff)
    style_axis(p.yaxis[0], yticks, None)
    return p


def blank(w, h, xr, yr, **borders):
    p = figure(width=w, height=h, x_range=Range1d(*xr), y_range=Range1d(*yr),
               x_axis_type=None, y_axis_type=None, output_backend="svg",
               toolbar_location=None, tools="", **borders)
    p.outline_line_color = None
    p.background_fill_color = "white"
    p.border_fill_color = "white"
    return p


def strip_range(v0, v1, lo, hi, frame_lo, frame_hi):
    """range over a strip [lo, hi] px such that [v0, v1] falls on [frame_lo, frame_hi] px."""
    k = (v1 - v0) / (frame_hi - frame_lo)
    return Range1d(v0 - (frame_lo - lo) * k, v1 + (hi - frame_hi) * k)


def draw_hist(p, lo, hi, heights, color, lw):
    edges = np.linspace(lo, hi, len(heights) + 1)
    xs, ys = [edges[0]], [0.0]
    for i, hgt in enumerate(heights):
        xs += [edges[i], edges[i + 1]]
        ys += [hgt, hgt]
    xs.append(edges[-1])
    ys.append(0.0)
    p.line(xs, ys, line_color=color, line_width=lw, line_join="miter")


def hist_panel(p, lo, hi, mw, m31, both, px, py):
    draw_hist(p, lo, hi, mw, COL["MW"], HLW["MW"])
    draw_hist(p, lo, hi, m31, COL["M31"], HLW["M31"])
    draw_hist(p, lo, hi, both, COL["Both"], HLW["Both"])
    p.line(px, py, line_color=PRIOR_COLOR, line_width=2, line_dash="6 3")


def contour_panel(p, mw, m31, both):
    for curves, s in ((mw, "MW"), (m31, "M31"), (both, "Both")):
        p.multi_line(xs=[list(c[0]) for c in curves], ys=[list(c[1]) for c in curves],
                     line_color=COL[s], line_width=CLW[s], line_join="round", line_cap="round")


def mlabel(p, x, y, pieces, vertical=False):
    """math-like label from pieces (text, size, style, advance, is_subscript), centred on x (or y)."""
    total = sum(pc[3] for pc in pieces)
    pos = -total / 2.0
    for text, size, style, adv, sub in pieces:
        shift = (4.5 if sub else 0.0) - BASE_FIX * size
        kw = dict(x=x, y=y, text=text, text_font=SERIF, text_font_size=f"{size}px",
                  text_font_style=style, text_color=INK, text_align="left",
                  text_baseline="alphabetic")
        if vertical:
            lab = Label(x_offset=shift, y_offset=pos, angle=math.pi / 2, **kw)
        else:
            lab = Label(x_offset=pos, y_offset=-shift, **kw)
        p.add_layout(lab)
        pos += adv


LAB_COS = [("ln", 18, "normal", 18.0, False), ("σ", 18, "italic", 11.0, False),
           ("cos", 14, "normal", 19.0, True), ("η", 14, "italic", 8.0, True)]
LAB_MUT = [("μ", 18, "italic", 10.5, False), ("T", 13, "italic", 8.0, True)]
LAB_MUE = [("μ", 18, "italic", 10.5, False), ("E", 13, "italic", 8.5, True)]
LAB_LST = [("ln", 18, "normal", 18.0, False), ("σ", 18, "italic", 10.5, False), ("T", 13, "italic", 8.0, True)]
LAB_LSE = [("ln", 18, "normal", 18.0, False), ("σ", 18, "italic", 10.5, False), ("E", 13, "italic", 8.5, True)]
LAB_DM = [("ΔDM/", 20, "normal", 51.5, False), ("σ", 20, "italic", 12.0, False), ("DM", 15, "normal", 24.5, True)]
LAB_PA = [("ΔP. A./", 20, "normal", 60.0, False), ("σ", 20, "italic", 12.0, False), ("P. A.", 15, "normal", 30.0, True)]
LAB_EPS = [("Δ", 19, "normal", 12.5, False), ("ϵ", 19, "italic", 8.5, False), ("/", 19, "normal", 6.5, False),
           ("σ", 19, "italic", 11.5, False), ("ϵ", 14, "italic", 6.5, True)]
XLAB_CENTERS = [COL_C[0] - 7, COL_C[1] - 3, COL_C[2], COL_C[3], COL_C[4]]

# ---------------------------------------------------------------- left: y labels + y tick axes
flab = blank(LAB_W, BODY_H, (0, LAB_W), (BODY_H, 0), min_border=0)
ROW_SPECS = [(1, MU_RANGE, MU_TICKS, "mu", LAB_MUT), (2, LNS_RANGE, LNS_TICKS, "lns", LAB_LST),
             (3, MU_RANGE, MU_TICKS, "mu", LAB_MUE), (4, LNS_RANGE, LNS_TICKS, "lns", LAB_LSE)]
ax_figs = [Spacer(width=AX_W, height=AX_STRIPS[0][0])]
for (r, (v0, v1), ticks, kind, lab), (s0, s1) in zip(ROW_SPECS, AX_STRIPS):
    mlabel(flab, 23, (ROW_T[r] + ROW_B[r]) / 2 + 4, lab, vertical=True)
    # y in this strip grows upward: strip bottom = -s1, frame bottom = -ROW_B
    yr = strip_range(v0, v1, -s1, -s0, -ROW_B[r], -ROW_T[r])
    fa = figure(width=AX_W, height=s1 - s0, x_range=Range1d(0, 1), y_range=yr,
                x_axis_type=None, output_backend="svg", toolbar_location=None, tools="",
                min_border_left=AX_W - 1, min_border_right=0, min_border_top=0, min_border_bottom=0)
    fa.grid.visible = False
    fa.outline_line_color = None
    fa.background_fill_color = "white"
    fa.border_fill_color = "white"
    style_axis(fa.yaxis[0], ticks, kind, standoff=2, tick_len=0)
    ax_figs.append(fa)
axcol = column(*ax_figs)

# ---------------------------------------------------------------- column 0
f00 = panel(COLW[0], CELL_H, LNS_RANGE, (0, 1), 3, 3, BT, BB, LNS_TICKS, H00_YTICKS)
hist_panel(f00, *LNS_RANGE, H00_MW, H00_M31, H00_BOTH, H00_PRIOR_X, H00_PRIOR_Y)
f10 = panel(COLW[0], CELL_H, LNS_RANGE, MU_RANGE, 3, 3, BT, BB, LNS_TICKS, MU_TICKS)
contour_panel(f10, P10_MW, P10_M31, P10_BOTH)
f20 = panel(COLW[0], CELL_H, LNS_RANGE, LNS_RANGE, 3, 3, BT, BB, LNS_TICKS, LNS_TICKS)
contour_panel(f20, P20_MW, P20_M31, P20_BOTH)
f30 = panel(COLW[0], CELL_H, LNS_RANGE, MU_RANGE, 3, 3, BT, BB, LNS_TICKS, MU_TICKS)
contour_panel(f30, P30_MW, P30_M31, P30_BOTH)
f40 = panel(COLW[0], CELL_H, LNS_RANGE, LNS_RANGE, 3, 3, BT, BB, LNS_TICKS, LNS_TICKS)
contour_panel(f40, P40_MW, P40_M31, P40_BOTH)
col0 = column(f00, f10, f20, f30, f40)

# ---------------------------------------------------------------- column 1
W1 = COLW[1]
f11 = panel(W1, CELL_H, MU_RANGE, (0, 1), 2, 3, BT, BB, MU_TICKS, H11_YTICKS)
hist_panel(f11, *MU_RANGE, H11_MW, H11_M31, H11_BOTH, H11_PRIOR_X, H11_PRIOR_Y)
f21 = panel(W1, CELL_H, MU_RANGE, LNS_RANGE, 2, 3, BT, BB, MU_TICKS, LNS_TICKS)
contour_panel(f21, P21_MW, P21_M31, P21_BOTH)
f31 = panel(W1, CELL_H, MU_RANGE, MU_RANGE, 2, 3, BT, BB, MU_TICKS, MU_TICKS)
contour_panel(f31, P31_MW, P31_M31, P31_BOTH)
f41 = panel(W1, CELL_H, MU_RANGE, LNS_RANGE, 2, 3, BT, BB, MU_TICKS, LNS_TICKS)
contour_panel(f41, P41_MW, P41_M31, P41_BOTH)
c1 = column(Spacer(width=W1, height=CELL_H - TOP_H), f11, f21, f31, f41)

# ---------------------------------------------------------------- column 2
W2 = COLW[2]
f22 = panel(W2, CELL_H, LNS_RANGE, (0, 1), 2, 3, BT, BB, LNS_TICKS, H22_YTICKS)
hist_panel(f22, *LNS_RANGE, H22_MW, H22_M31, H22_BOTH, H22_PRIOR_X, H22_PRIOR_Y)
f32 = panel(W2, CELL_H, LNS_RANGE, MU_RANGE, 2, 3, BT, BB, LNS_TICKS, MU_TICKS)
contour_panel(f32, P32_MW, P32_M31, P32_BOTH)
f42 = panel(W2, CELL_H, LNS_RANGE, LNS_RANGE, 2, 3, BT, BB, LNS_TICKS, LNS_TICKS)
contour_panel(f42, P42_MW, P42_M31, P42_BOTH)
c2 = column(Spacer(width=W2, height=2 * CELL_H - TOP_H), f22, f32, f42)

# ---------------------------------------------------------------- column 3
W3 = COLW[3]
TOPB = 2 * CELL_H - TOP_H - FRAME - BB
fdm = panel(W3, 2 * CELL_H - TOP_H, DM_RANGE, (0, 1), 2, 3, TOPB, BB, DM_TICKS, DM_YTICKS,
            xkind="dm", xloc="above", standoff=4)
hist_panel(fdm, *DM_RANGE, DM_MW, DM_M31, DM_BOTH, DM_PRIOR_X, DM_PRIOR_Y)

fleg = blank(W3, CELL_H, (0, 1), (0, 1), min_border_left=2, min_border_right=0,
             min_border_top=27, min_border_bottom=0)
items = []
for s in SERIES:
    # legend proxies: placed outside the visible range, only their styles show in the legend
    r = fleg.quad(left=[5], right=[6], top=[5], bottom=[4], fill_color=None,
                  line_color=COL[s], line_width=LEG_LW[s])
    items.append(LegendItem(label=s, renderers=[r]))
legend = Legend(items=items, location="top_left", margin=0, padding=0, spacing=6,
                glyph_width=42, glyph_height=15, label_standoff=16, label_height=15,
                label_text_font=SERIF, label_text_font_size="20px", label_text_color=INK,
                border_line_color=None, background_fill_alpha=0)
fleg.add_layout(legend)

f33 = panel(W3, CELL_H, MU_RANGE, (0, 1), 2, 3, BT, BB, MU_TICKS, H33_YTICKS)
hist_panel(f33, *MU_RANGE, H33_MW, H33_M31, H33_BOTH, H33_PRIOR_X, H33_PRIOR_Y)
f43 = panel(W3, CELL_H, MU_RANGE, LNS_RANGE, 2, 3, BT, BB, MU_TICKS, LNS_TICKS)
contour_panel(f43, P43_MW, P43_M31, P43_BOTH)
c3 = column(fdm, fleg, f33, f43)

# ---------------------------------------------------------------- column 4
W4 = COLW[4]
fpa = panel(W4, 2 * CELL_H - TOP_H, PA_RANGE, (0, 1), 2, 1, TOPB, BB, PA_TICKS, PA_YTICKS,
            xkind="int", xloc="above", standoff=4)
hist_panel(fpa, *PA_BINS, PA_MW, PA_M31, PA_BOTH, PA_PRIOR_X, PA_PRIOR_Y)

EPS_BOT = 28
feps = panel(W4, BT + FRAME + EPS_BOT, PA_RANGE, (0, 1), 2, 1, BT, EPS_BOT, PA_TICKS, EPS_YTICKS,
             xkind="int", standoff=8)
hist_panel(feps, *PA_BINS, EPS_MW, EPS_M31, EPS_BOTH, EPS_PRIOR_X, EPS_PRIOR_Y)
EPS_STRIP_H = 2 * CELL_H - (BT + FRAME + EPS_BOT)
eps_top = ROW_B[2] + EPS_BOT
feps_lab = blank(W4, EPS_STRIP_H, (COL_L[4] - 2, COL_L[4] - 2 + W4),
                 (eps_top + EPS_STRIP_H, eps_top), min_border=0)
mlabel(feps_lab, COL_C[4], 365, LAB_EPS)

f44 = panel(W4, CELL_H, LNS_RANGE, (0, 1), 2, 1, BT, BB, LNS_TICKS, H44_YTICKS)
hist_panel(f44, *LNS_RANGE, H44_MW, H44_M31, H44_BOTH, H44_PRIOR_X, H44_PRIOR_Y)
c4 = column(fpa, feps, feps_lab, f44)

# ---------------------------------------------------------------- top strip: title + top axis labels
ftop = blank(RIGHT_W, TOP_H, (RIGHT_X0, RIGHT_X0 + RIGHT_W), (TOP_H, 0), min_border=0)
ftop.add_layout(Label(x=218, y=50, y_offset=BASE_FIX * 22.6, text=TITLE, text_font=SERIF,
                      text_font_size="22.6px", text_color=INK, text_align="left",
                      text_baseline="alphabetic"))
mlabel(ftop, COL_C[3] - 2, 83, LAB_DM)
mlabel(ftop, COL_C[4] - 5, 83, LAB_PA)

body = row(flab, axcol, col0, column(ftop, row(c1, c2, c3, c4)))

# ---------------------------------------------------------------- bottom strip: rotated tick labels + x labels
fbot = blank(TOTAL_W, BOTTOM_H, (0, TOTAL_W), (BODY_H + BOTTOM_H, BODY_H), min_border=0)
for c in range(5):
    name = f"col{c}"
    fbot.extra_x_ranges[name] = strip_range(*COL_RANGES[c], 0, TOTAL_W, COL_L[c], COL_L[c] + FRAME_W)
    ticks = COL_TICKS[c]
    # the very last label of the figure is nudged inwards so that it stays inside the page
    nudge = [0.0] * len(ticks)
    if c == 4:
        nudge[-1] = -4.0
    fbot.text(x=list(ticks), y=[563] * len(ticks), text=[tick_text(t, COL_KINDS[c]) for t in ticks],
              x_offset=nudge, x_range_name=name, angle=math.pi / 4, text_align="center",
              text_baseline="middle", text_font=value(SERIF), text_font_size=value("15px"),
              text_color=INK)
for cx, lab in zip(XLAB_CENTERS, [LAB_COS, LAB_MUT, LAB_LST, LAB_MUE, LAB_LSE]):
    mlabel(fbot, cx, 597, lab)

layout = column(body, fbot)

open("out.html", "w").write(file_html(layout, INLINE))
